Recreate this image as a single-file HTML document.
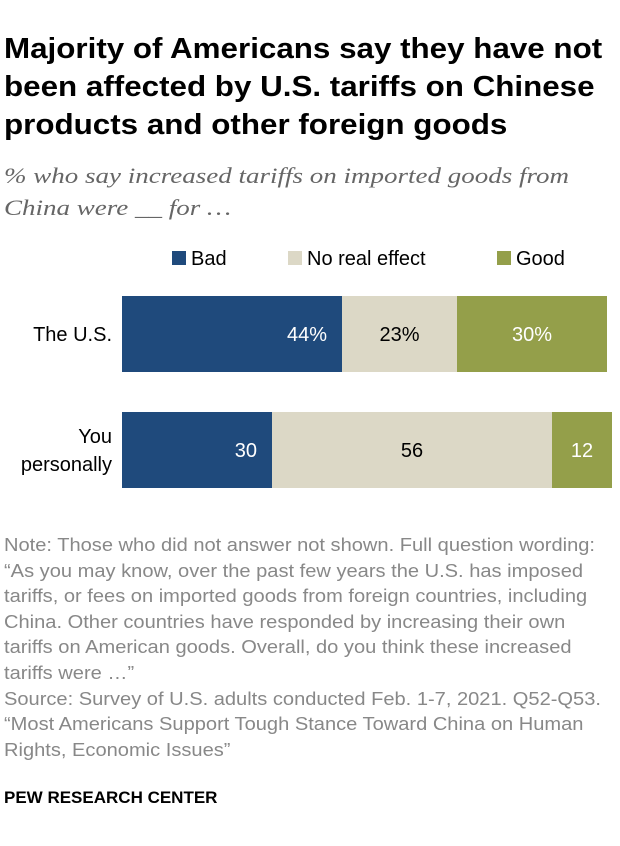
<!DOCTYPE html>
<html><head><meta charset="utf-8"><style>
body{margin:0;width:620px;height:846px;background:#fff;font-family:"Liberation Sans",sans-serif;position:relative;overflow:hidden}
.t{position:absolute;left:4px;top:30px;font-size:28.5px;font-weight:bold;line-height:38px;color:#000;white-space:nowrap;transform:scaleX(1.1);transform-origin:0 0}
.s{position:absolute;left:4px;top:160px;font-family:"Liberation Serif",serif;font-style:italic;font-size:22.5px;line-height:32px;color:#666;white-space:nowrap;transform:scaleX(1.2);transform-origin:0 0}
.n{position:absolute;left:4px;top:532px;font-size:18.5px;line-height:25.6px;color:#888;white-space:nowrap;transform:scaleX(1.085);transform-origin:0 0}
.p{position:absolute;left:4px;top:788px;font-size:17px;font-weight:bold;color:#000}
</style></head><body>
<div class="t">Majority of Americans say they have not<br>been affected by U.S. tariffs on Chinese<br>products and other foreign goods</div>
<div class="s">% who say increased tariffs on imported goods from<br>China were __ for …</div>
<svg id="c" width="620" height="520" style="position:absolute;left:0;top:0"></svg>
<div class="n">Note: Those who did not answer not shown. Full question wording:<br>“As you may know, over the past few years the U.S. has imposed<br>tariffs, or fees on imported goods from foreign countries, including<br>China. Other countries have responded by increasing their own<br>tariffs on American goods. Overall, do you think these increased<br>tariffs were …”<br>Source: Survey of U.S. adults conducted Feb. 1-7, 2021. Q52-Q53.<br>“Most Americans Support Tough Stance Toward China on Human<br>Rights, Economic Issues”</div>
<div class="p">PEW RESEARCH CENTER</div>
<script>
const categories=[["The U.S."],["You","personally"]];
const bad=[44,30];
const none=[23,56];
const good=[30,12];
const labels=[["44%","23%","30%"],["30","56","12"]];
const seriesNames=["Bad","No real effect","Good"];
const colors=["#1f4a7c","#dcd8c6","#949f4a"];
const textCol=["#fff","#000","#fff"];
const ns="http://www.w3.org/2000/svg",svg=document.getElementById('c');
const x0=122,k=5,barTop=[296,412],barH=76;
function x(v){return x0+v*k;}
function mk(t,a,txt){const e=document.createElementNS(ns,t);for(const q in a)e.setAttribute(q,a[q]);if(txt!=null)e.textContent=txt;svg.appendChild(e);return e;}
const lx=[172,288,497];
seriesNames.forEach((s,i)=>{
 const r=mk('rect',{x:lx[i],y:251,width:14,height:14,fill:colors[i]});
 
 
 const t=mk('text',{x:lx[i]+19,y:265,'font-size':20,fill:'#000'},s);
 
 
});
categories.forEach((c,i)=>{
 const vals=[bad[i],none[i],good[i]];let acc=0;
 const y=barTop[i];
 vals.forEach((v,j)=>{
  const r=mk('rect',{x:x(acc),y:y,width:v*k,height:barH,fill:colors[j]});
  
  
  const a=j===0?{x:x(acc+v)-15,'text-anchor':'end'}:{x:x(acc+v/2),'text-anchor':'middle'};
  const t=mk('text',Object.assign(a,{y:y+barH/2+7,'font-size':20,fill:textCol[j]}),labels[i][j]);
  
  
  acc+=v;
 });
 const n=c.length;
 c.forEach((l,m)=>{
  const t=mk('text',{x:112,y:y+barH/2+7+(m-(n-1)/2)*28,'font-size':20,fill:'#000','text-anchor':'end'},l);
  
  
 });
});
</script>
</body></html>
